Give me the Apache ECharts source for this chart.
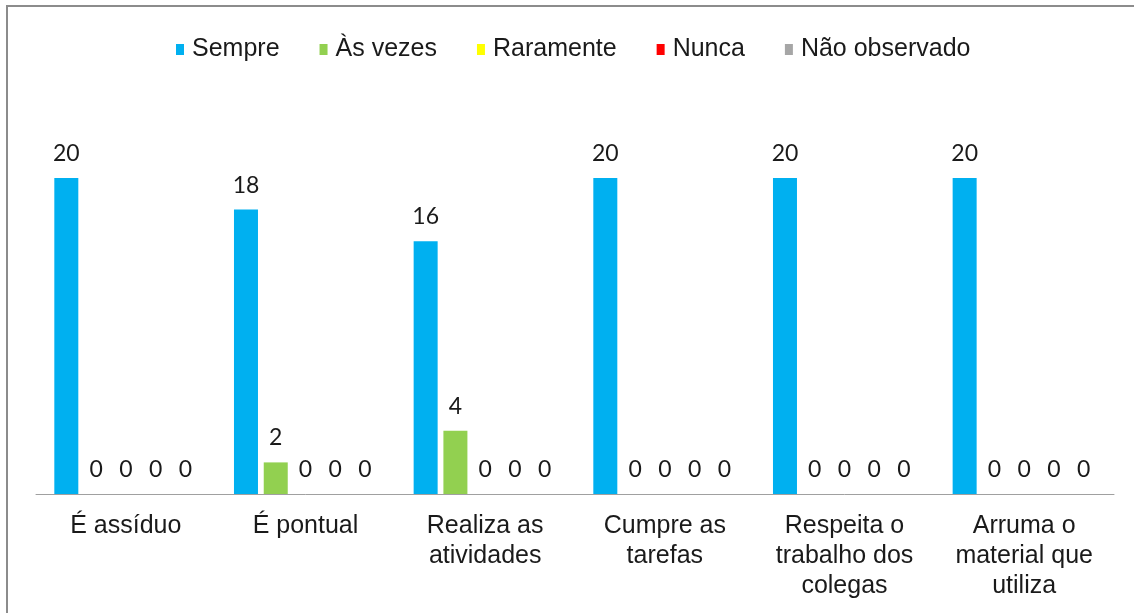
<!DOCTYPE html>
<html>
<head>
<meta charset="utf-8">
<script src="https://cdn.jsdelivr.net/npm/echarts@6/dist/echarts.min.js"></script>
<style>
  html, body { margin: 0; padding: 0; background: #fff; }
  #chart { position: relative; width: 1134px; height: 613px; }
  .frame {
    position: absolute; left: 6px; top: 5px; right: -10px; bottom: -10px;
    border-top: 2px solid #8c8c8c; border-left: 2px solid #8c8c8c;
    pointer-events: none;
  }
</style>
</head>
<body>
<div id="chart"></div>
<div class="frame"></div>
<script>
// categories and series
const categories = [
  'É assíduo',
  'É pontual',
  'Realiza as\natividades',
  'Cumpre as\ntarefas',
  'Respeita o\ntrabalho dos\ncolegas',
  'Arruma o\nmaterial que\nutiliza',
]
const seriesNames = ['Sempre', 'Às vezes', 'Raramente', 'Nunca', 'Não observado']
const sempre = [20, 18, 16, 20, 20, 20]
const asVezes = [0, 2, 4, 0, 0, 0]
const raramente = [0, 0, 0, 0, 0, 0]
const nunca = [0, 0, 0, 0, 0, 0]
const naoObservado = [0, 0, 0, 0, 0, 0]
const seriesColors = ['#00b0f0', '#92d050', '#ffff00', '#ff0000', '#a6a6a6']

const values = [sempre, asVezes, raramente, nunca, naoObservado]

const textFont = 'Liberation Sans, Arial, sans-serif'

const chart = echarts.init(document.getElementById('chart'))

chart.setOption({
  animation: false,
  color: seriesColors,
  legend: {
    left: 171,
    top: 32,
    itemWidth: 8,
    itemHeight: 11,
    itemGap: 40,
    icon: 'rect',
    textStyle: {
      fontFamily: textFont,
      fontSize: 25,
      color: '#1a1a1a',
      padding: [0, 0, 0, 3],
    },
    data: seriesNames,
  },
  grid: {
    left: 36,
    right: 20,
    top: 178,
    bottom: 119,
    containLabel: false,
  },
  xAxis: {
    type: 'category',
    data: categories,
    axisTick: { show: false },
    axisLine: { lineStyle: { color: '#a0a0a0', width: 1 } },
    axisLabel: {
      interval: 0,
      margin: 17,
      color: '#1a1a1a',
      fontFamily: textFont,
      fontSize: 25,
      lineHeight: 30,
    },
  },
  yAxis: {
    type: 'value',
    min: 0,
    max: 20,
    show: false,
    splitLine: { show: false },
  },
  series: seriesNames.map((name, i) => ({
    name,
    type: 'bar',
    data: values[i],
    barWidth: 24,
    barGap: '24%',
    label: {
      show: true,
      position: 'top',
      distance: 13,
      color: '#1a1a1a',
      fontFamily: 'Lato, Carlito, sans-serif',
      fontSize: 23,
    },
  })),
})
</script>
</body>
</html>
